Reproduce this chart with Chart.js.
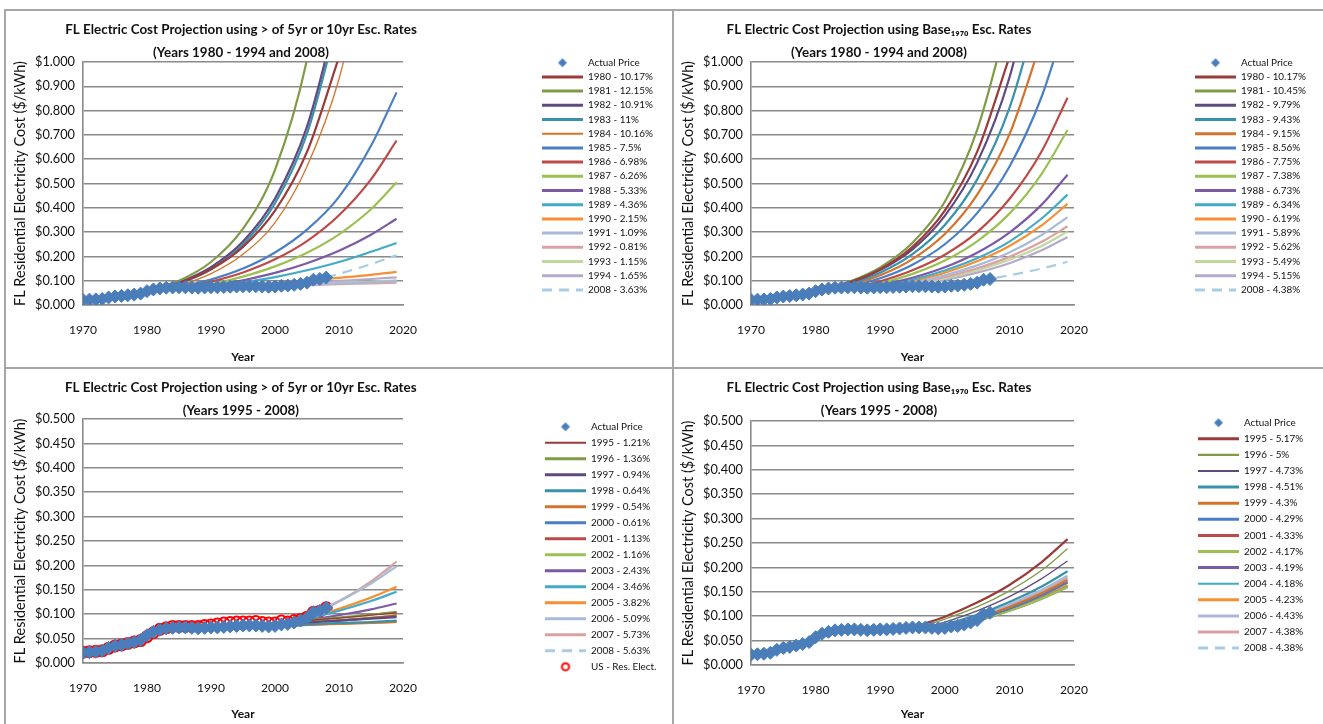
<!DOCTYPE html>
<html>
<head>
<meta charset="utf-8">
<title>FL Electric Cost Projection</title>
<script src="https://cdn.jsdelivr.net/npm/chart.js@4.4.1/dist/chart.umd.min.js"></script>
<style>
  body { margin: 0; background: #fff; }
  .rule { position: absolute; background: #a6a6a6; }
  canvas { position: absolute; }
</style>
</head>
<body>
<div class="rule" style="left:4px;top:9px;width:1319px;height:2px"></div>
<div class="rule" style="left:4px;top:9px;width:2px;height:715px"></div>
<div class="rule" style="left:672px;top:9px;width:2px;height:715px"></div>
<div class="rule" style="left:4px;top:367px;width:1319px;height:2px"></div>
<canvas id="tl" width="666" height="356" style="left:6px;top:11px"></canvas>
<canvas id="tr" width="649" height="356" style="left:674px;top:11px"></canvas>
<canvas id="bl" width="666" height="355" style="left:6px;top:369px"></canvas>
<canvas id="br" width="649" height="355" style="left:674px;top:369px"></canvas>
<script>
// ---- data ----
const years = [1970, 1971, 1972, 1973, 1974, 1975, 1976, 1977, 1978, 1979,
               1980, 1981, 1982, 1983, 1984, 1985, 1986, 1987, 1988, 1989,
               1990, 1991, 1992, 1993, 1994, 1995, 1996, 1997, 1998, 1999,
               2000, 2001, 2002, 2003, 2004, 2005, 2006, 2007, 2008];
const actualPrice = [.021, .022, .023, .025, .031, .035, .037, .040, .043, .047,
                     .057, .064, .068, .071, .072, .073, .073, .072, .071, .072,
                     .073, .073, .074, .075, .076, .077, .077, .077, .076, .075,
                     .076, .079, .080, .083, .087, .092, .104, .107, .113];
const usResElect = [.022, .023, .024, .025, .030, .035, .037, .040, .043, .046,
                    .054, .062, .069, .072, .075, .075, .075, .075, .075, .077,
                    .078, .080, .082, .083, .084, .084, .084, .085, .083, .082,
                    .082, .086, .084, .087, .089, .094, .104, .106, .113];

// top panels: projections starting 1980-1994 and 2008
const topBases = [1980, 1981, 1982, 1983, 1984, 1985, 1986, 1987, 1988, 1989, 1990, 1991, 1992, 1993, 1994, 2008];
const tlRates = ['10.17%', '12.15%', '10.91%', '11%', '10.16%', '7.5%', '6.98%', '6.26%', '5.33%', '4.36%', '2.15%', '1.09%', '0.81%', '1.15%', '1.65%', '3.63%'];
const trRates = ['10.17%', '10.45%', '9.79%', '9.43%', '9.15%', '8.56%', '7.75%', '7.38%', '6.73%', '6.34%', '6.19%', '5.89%', '5.62%', '5.49%', '5.15%', '4.38%'];
const topGrid = [1985, 1990, 1995, 2000, 2005, 2010, 2015, 2019];
const tlCurves = [
  [.091, .147, .239, .388, .630, 1.02, null, null],
  [.100, .177, .314, .556, 1.01, 1.78, null, null],
  [.093, .156, .261, .438, .734, 1.23, null, null],
  [.087, .147, .249, .419, .705, 1.19, null, null],
  [.079, .129, .209, .339, .570, .930, 1.50, null],
  [null, .105, .150, .216, .310, .445, .655, .875],
  [null, .096, .134, .188, .263, .369, .517, .677],
  [null, .086, .117, .159, .215, .291, .394, .505],
  [null, .079, .102, .132, .172, .223, .289, .355],
  [null, .075, .093, .115, .143, .177, .219, .255],
  [null, null, .081, .090, .100, .112, .124, .136],
  [null, null, .076, .080, .085, .089, .094, .099],
  [null, null, .076, .079, .082, .086, .089, .092],
  [null, null, .077, .081, .086, .091, .096, .101],
  [null, null, .077, .084, .091, .099, .107, .114],
  [null, null, null, null, null, .128, .168, .205]
];
const trCurves = [
  [.091, .147, .239, .388, .630, 1.02, null, null],
  [.094, .155, .256, .425, .720, 1.20, null, null],
  [.090, .144, .229, .367, .585, .935, 1.49, null],
  [.085, .133, .209, .329, .516, .810, 1.27, null],
  [.079, .122, .189, .292, .453, .702, 1.09, null],
  [null, .110, .166, .250, .378, .569, .858, 1.19],
  [null, .098, .143, .207, .300, .436, .633, .853],
  [null, .089, .128, .183, .262, .376, .540, .720],
  [null, .081, .112, .155, .215, .298, .413, .536],
  [null, .077, .104, .142, .192, .261, .356, .454],
  [null, null, .099, .133, .180, .243, .328, .416],
  [null, null, .092, .122, .163, .216, .288, .362],
  [null, null, .087, .115, .151, .198, .260, .324],
  [null, null, .083, .109, .143, .186, .243, .302],
  [null, null, .080, .103, .133, .172, .225, .280],
  [null, null, null, null, null, .122, .150, .178]
];

// bottom panels: projections starting 1995-2008
const bottomBases = [1995, 1996, 1997, 1998, 1999, 2000, 2001, 2002, 2003, 2004, 2005, 2006, 2007, 2008];
const blRates = ['1.21%', '1.36%', '0.94%', '0.64%', '0.54%', '0.61%', '1.13%', '1.16%', '2.43%', '3.46%', '3.82%', '5.09%', '5.73%', '5.63%'];
const brRates = ['5.17%', '5%', '4.73%', '4.51%', '4.3%', '4.29%', '4.33%', '4.17%', '4.19%', '4.18%', '4.23%', '4.43%', '4.38%', '4.38%'];
const bottomGrid = [2000, 2005, 2010, 2015, 2019];
const blCurves = [
  [.082, .087, .092, .098, .103],
  [.081, .087, .093, .099, .105],
  [.079, .083, .087, .091, .094],
  [.077, .079, .082, .084, .087],
  [.075, .078, .080, .082, .084],
  [null, .078, .081, .083, .085],
  [null, .083, .087, .092, .097],
  [null, .083, .088, .093, .098],
  [null, .087, .098, .110, .122],
  [null, .090, .107, .127, .146],
  [null, null, .111, .134, .156],
  [null, null, .127, .163, .198],
  [null, null, .126, .167, .208],
  [null, null, .126, .166, .205]
];
const brCurves = [
  [.099, .128, .164, .211, .258],
  [.094, .119, .152, .194, .238],
  [.088, .111, .140, .177, .213],
  [.083, .103, .129, .161, .192],
  [.078, .096, .119, .147, .174],
  [null, .094, .116, .143, .169],
  [null, .094, .116, .143, .170],
  [null, .090, .111, .136, .160],
  [null, .090, .111, .136, .160],
  [null, .091, .112, .137, .161],
  [null, null, .113, .139, .164],
  [null, null, .124, .154, .183],
  [null, null, .122, .151, .179],
  [null, null, .122, .150, .178]
];

// ---- styles ----
const seriesColors = ['#9b3b39', '#7f9b45', '#5f4a80', '#3892aa', '#d4732c', '#4b7fc4', '#bd4a48', '#9bc152',
                      '#7d5aa6', '#43abc8', '#f68f35', '#a9bad8', '#d9a3a2', '#c2d69f', '#b6aacb'];
const dashColor = '#a8cde3';
const actualColor = '#4a7ebb';
const textColor = '#111111';
const gridColor = '#8a8a8a';
const family = 'Lato, "Liberation Sans", sans-serif';

Chart.defaults.font.family = family;
Chart.defaults.color = textColor;

const title5yr = 'FL Electric Cost Projection using > of 5yr or 10yr Esc. Rates';
const titleBase = 'FL Electric Cost Projection using Base\u2081\u2089\u2087\u2080 Esc. Rates';
const yTitle = 'FL Residential Electricity Cost ($/kWh)';

// font sizes chosen so text widths match the picture
const meas = document.createElement('canvas').getContext('2d');
function fitSize(text, weight, target) {
  meas.font = weight + ' 20px ' + family;
  return 20 * target / meas.measureText(text).width;
}
const titleSize = fitSize(title5yr, 'bold', 352);
const legendSize = fitSize('1980 - 10.17%', 'normal', 65);
const yTickSize = fitSize('$1.000', 'normal', 40);
const xTickSize = fitSize('1970', 'normal', 28);
const yTitleSize = fitSize(yTitle, 'normal', 245);
const yearSize = fitSize('Year', 'bold', 23.3);

function icon(draw) {
  const c = document.createElement('canvas');
  c.width = 12; c.height = 12;
  draw(c.getContext('2d'));
  return c;
}
const diamondIcon = icon(g => {
  g.fillStyle = actualColor;
  g.beginPath(); g.moveTo(6, 1.5); g.lineTo(10.5, 6); g.lineTo(6, 10.5); g.lineTo(1.5, 6); g.closePath(); g.fill();
});
const ringIcon = icon(g => {
  g.strokeStyle = '#ff0000'; g.lineWidth = 2;
  g.beginPath(); g.arc(6, 6, 3.6, 0, Math.PI * 2); g.stroke();
});

function pts(xs, ys) {
  return xs.map((x, i) => ({ x: x, y: ys[i] })).filter(p => p.y !== null);
}

function actualSet(lastYear) {
  const n = years.indexOf(lastYear) + 1;
  return {
    label: 'Actual Price',
    data: pts(years.slice(0, n), actualPrice.slice(0, n)),
    showLine: false,
    pointStyle: 'rectRot', pointRadius: 6.5,
    pointBackgroundColor: actualColor, pointBorderColor: actualColor, pointBorderWidth: 1,
    borderColor: actualColor, legendIcon: diamondIcon
  };
}

function usSet() {
  return {
    label: 'US - Res. Elect.',
    data: pts(years, usResElect),
    showLine: false,
    pointStyle: 'circle', pointRadius: 5.5,
    pointBackgroundColor: 'rgba(0,0,0,0)', pointBorderColor: '#ff0000', pointBorderWidth: 2,
    borderColor: '#ff0000', legendIcon: ringIcon
  };
}

function curveSets(bases, rates, grid, curves, thin) {
  return bases.map((b, i) => {
    const dashed = i === bases.length - 1;
    return {
      label: b + ' - ' + rates[i],
      data: [{ x: b, y: actualPrice[years.indexOf(b)] }].concat(pts(grid, curves[i])),
      borderColor: dashed ? dashColor : seriesColors[i],
      borderWidth: thin.includes(i) ? 1.3 : 2.2,
      borderDash: dashed ? [10, 7] : [],
      pointRadius: 0,
      cubicInterpolationMode: 'monotone',
      fill: false
    };
  });
}

function legendItems(chart) {
  return chart.data.datasets.map((ds, i) => ({
    text: ds.label,
    datasetIndex: i,
    hidden: false,
    fontColor: textColor,
    pointStyle: ds.legendIcon || 'line',
    strokeStyle: ds.borderColor,
    fillStyle: ds.borderColor,
    lineWidth: (ds.borderWidth || 0) + 0.8,
    lineDash: ds.borderDash || []
  }));
}

// moves the title and legend blocks to where they sit in the picture
const placeBlocks = {
  id: 'placeBlocks',
  afterLayout(chart, args, opts) {
    const t = chart.titleBlock;
    t.left = opts.titleX - 260;
    t.right = opts.titleX + 260;
    const lg = chart.legend;
    lg.left = opts.legendX;
    lg.right = chart.width;
    lg.top = opts.legendY;
    lg.bottom = chart.height;
  }
};

function makeChart(id, cfg) {
  const gap = cfg.legendStep - legendSize;
  const options = {
    responsive: false,
    animation: false,
    events: [],
    layout: { padding: { left: 0, right: 0, top: 0, bottom: 0 } },
    plugins: {
      title: {
        display: true, text: cfg.title, fullSize: false, color: textColor,
        font: { size: titleSize, weight: 'bold', lineHeight: 23.4 / titleSize },
        padding: cfg.titlePad
      },
      legend: {
        position: 'right', align: 'start',
        labels: {
          usePointStyle: true, pointStyleWidth: 41, padding: gap,
          color: textColor, font: { size: legendSize }, generateLabels: legendItems
        }
      },
      tooltip: { enabled: false },
      placeBlocks: {
        titleX: cfg.titleX,
        legendX: cfg.legendLeft - gap,
        legendY: cfg.legendFirst - legendSize / 2 - gap
      }
    },
    scales: {
      x: {
        type: 'linear', min: 1970, max: 2020,
        ticks: { stepSize: 10, padding: 24.7 - 0.6 * xTickSize, color: textColor, font: { size: xTickSize }, maxRotation: 0, callback: v => String(v) },
        grid: { display: false, drawTicks: false },
        border: { display: true, color: gridColor, width: 1.5 },
        title: { display: true, text: 'Year', color: textColor, font: { size: yearSize, weight: 'bold' }, padding: { top: 0, bottom: 9.7 - 0.6 * yearSize } },
        afterFit: s => { s.height = cfg.xAxisH; }
      },
      y: {
        min: 0, max: cfg.yMax,
        ticks: { stepSize: cfg.yStep, padding: 8, color: textColor, font: { size: yTickSize }, callback: v => '$' + v.toFixed(3) },
        grid: { color: gridColor, lineWidth: 1.6, drawTicks: false },
        border: { display: true, color: gridColor, width: 1.6 },
        title: { display: true, text: yTitle, color: textColor, font: { size: yTitleSize }, padding: { top: 14 - 0.6 * yTitleSize, bottom: 0 } },
        afterFit: s => { s.width = 77; }
      }
    }
  };
  const ch = new Chart(document.getElementById(id), {
    type: 'line',
    data: { datasets: cfg.datasets },
    options: options,
    plugins: [placeBlocks]
  });
  // make room so the plot ends where it does in the picture
  const dx = ch.chartArea.right - cfg.plotRight;
  if (Math.abs(dx) > 0.5) {
    options.layout.padding.right = dx;
    ch.update();
  }
  return ch;
}

makeChart('tl', {
  title: [title5yr, '(Years 1980 - 1994 and 2008)'],
  titlePad: { top: 6.6, bottom: -2.4 }, titleX: 235,
  legendLeft: 536, legendFirst: 51.7, legendStep: 14.2,
  yMax: 1, yStep: 0.1, plotRight: 397, xAxisH: 62,
  datasets: [actualSet(2008)].concat(curveSets(topBases, tlRates, topGrid, tlCurves, [4]))
});

makeChart('tr', {
  title: [titleBase, '(Years 1980 - 1994 and 2008)'],
  titlePad: { top: 6.6, bottom: -2.4 }, titleX: 205,
  legendLeft: 521, legendFirst: 51.7, legendStep: 14.2,
  yMax: 1, yStep: 0.1, plotRight: 400, xAxisH: 62,
  datasets: [actualSet(2007)].concat(curveSets(topBases, trRates, topGrid, trCurves, []))
});

makeChart('bl', {
  title: [title5yr, '(Years 1995 - 2008)'],
  titlePad: { top: 7, bottom: -3.8 }, titleX: 234.8,
  legendLeft: 539, legendFirst: 57.7, legendStep: 16,
  yMax: 0.5, yStep: 0.05, plotRight: 397, xAxisH: 61,
  datasets: [actualSet(2008)].concat(curveSets(bottomBases, blRates, bottomGrid, blCurves, [0]), [usSet()])
});

makeChart('br', {
  title: [titleBase, '(Years 1995 - 2008)'],
  titlePad: { top: 7, bottom: -1.8 }, titleX: 205,
  legendLeft: 524, legendFirst: 53.7, legendStep: 16.1,
  yMax: 0.5, yStep: 0.05, plotRight: 400, xAxisH: 59,
  datasets: [actualSet(2007)].concat(curveSets(bottomBases, brRates, bottomGrid, brCurves, [1, 2, 9]))
});
</script>
</body>
</html>
